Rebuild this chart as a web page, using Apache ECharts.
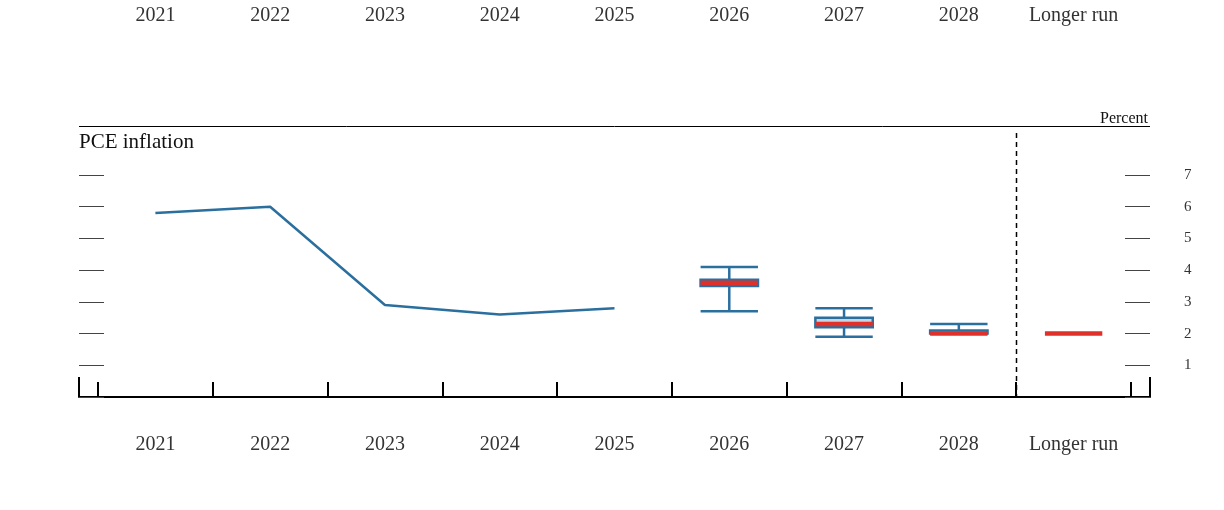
<!DOCTYPE html>
<html>
<head>
<meta charset="utf-8">
<script src="https://cdn.jsdelivr.net/npm/echarts@6/dist/echarts.min.js"></script>
<style>
  html, body { margin: 0; padding: 0; background: #fff; }
  #chart { width: 1224px; height: 510px; }
</style>
</head>
<body>
<div id="chart"></div>
<script>
// categories on the x axis
const years = ['2021', '2022', '2023', '2024', '2025', '2026', '2027', '2028', 'Longer run'];
// actual PCE inflation (history)
const actual = [5.8, 6.0, 2.9, 2.6, 2.8, null, null, null, null];
// projections: index of year, range and central tendency
const boxIdx  = [5, 6, 7];
const boxLow  = [2.7, 1.9, 2.0];
const boxQ1   = [3.5, 2.2, 2.0];
const boxQ3   = [3.7, 2.5, 2.1];
const boxHigh = [4.1, 2.8, 2.3];
// medians (red bars), last one is the longer run
const medIdx = [5, 6, 7, 8];
const medVal = [3.6, 2.3, 2.0, 2.0];
// y tick labels
const yTicks = [1, 2, 3, 4, 5, 6, 7];

const BLUE = '#2b6f9e';
const RED = '#e0302a';
const serif = '"Liberation Serif", "DejaVu Serif", serif';

const chart = echarts.init(document.getElementById('chart'));

const boxData = boxIdx.map((x, i) => [x, boxLow[i], boxQ1[i], boxQ3[i], boxHigh[i]]);
const medData = medIdx.map((x, i) => [x, medVal[i]]);

const option = {
  animation: false,
  grid: [
    { left: 98, right: 93, top: 175, bottom: 113 },   // data grid
    { left: 79, right: 74, top: 175, bottom: 113 }    // frame grid
  ],
  xAxis: [
    {
      type: 'category', gridIndex: 0, data: years, boundaryGap: true,
      axisLine: { show: false },
      axisTick: { show: true, interval: 0, inside: true, length: 15, lineStyle: { color: '#000', width: 2 } },
      axisLabel: { interval: 0, margin: 38, fontFamily: serif, fontSize: 20, color: '#333' }
    },
    {
      type: 'category', gridIndex: 0, data: years, position: 'top',
      axisLine: { show: false }, axisTick: { show: false },
      axisLabel: { interval: 0, margin: 149, fontFamily: serif, fontSize: 20, color: '#333' }
    },
    {
      type: 'value', gridIndex: 1, min: 0, max: 1, interval: 1,
      axisLine: { show: true, lineStyle: { color: '#000', width: 2 } },
      axisTick: { show: true, inside: true, length: 20, lineStyle: { color: '#000', width: 2 } },
      axisLabel: { show: false }, splitLine: { show: false }
    }
  ],
  yAxis: [
    { type: 'value', gridIndex: 0, min: 0, max: 7, show: false },
    {
      type: 'value', gridIndex: 1, min: 0, max: 7, interval: 1, position: 'left',
      axisLine: { show: false },
      axisTick: { show: true, inside: true, length: 25, lineStyle: { color: '#444', width: 1 } },
      axisLabel: { show: false }, splitLine: { show: false }
    },
    {
      type: 'value', gridIndex: 1, min: 0, max: 7, interval: 1, position: 'right',
      axisLine: { show: false },
      axisTick: { show: true, inside: true, length: 25, lineStyle: { color: '#444', width: 1 } },
      axisLabel: {
        margin: 34, fontFamily: serif, fontSize: 15, color: '#333', padding: [3, 0, 0, 0],
        formatter: v => yTicks.includes(v) ? String(v) : ''
      },
      splitLine: { show: false }
    }
  ],
  series: [
    {
      type: 'line', xAxisIndex: 0, yAxisIndex: 0, data: actual,
      symbol: 'none', lineStyle: { color: BLUE, width: 2.5 }, connectNulls: false
    },
    {
      type: 'custom', xAxisIndex: 0, yAxisIndex: 0, data: boxData,
      renderItem: function (params, api) {
        const x = api.value(0);
        const band = api.size([1, 0])[0];
        const half = band * 0.25;
        const pLow = api.coord([x, api.value(1)]);
        const pQ1 = api.coord([x, api.value(2)]);
        const pQ3 = api.coord([x, api.value(3)]);
        const pHigh = api.coord([x, api.value(4)]);
        const cx = pLow[0];
        const ls = { stroke: BLUE, lineWidth: 2.5 };
        return {
          type: 'group',
          children: [
            { type: 'line', shape: { x1: cx, y1: pHigh[1], x2: cx, y2: pQ3[1] }, style: ls },
            { type: 'line', shape: { x1: cx, y1: pQ1[1], x2: cx, y2: pLow[1] }, style: ls },
            { type: 'line', shape: { x1: cx - half, y1: pHigh[1], x2: cx + half, y2: pHigh[1] }, style: ls },
            { type: 'line', shape: { x1: cx - half, y1: pLow[1], x2: cx + half, y2: pLow[1] }, style: ls },
            {
              type: 'rect',
              shape: { x: cx - half, y: pQ3[1], width: half * 2, height: pQ1[1] - pQ3[1] },
              style: { fill: '#c8d4e2', stroke: BLUE, lineWidth: 2.5 }
            }
          ]
        };
      }
    },
    {
      type: 'custom', xAxisIndex: 0, yAxisIndex: 0, data: medData, z: 5,
      renderItem: function (params, api) {
        const p = api.coord([api.value(0), api.value(1)]);
        const half = api.size([1, 0])[0] * 0.25;
        return {
          type: 'line',
          shape: { x1: p[0] - half, y1: p[1], x2: p[0] + half, y2: p[1] },
          style: { stroke: RED, lineWidth: 4.5 }
        };
      }
    }
  ]
};

chart.setOption(option);

// dashed separator between 2028 and the longer run, placed from the axis scale
const c28 = chart.convertToPixel({ xAxisIndex: 0 }, '2028');
const cLR = chart.convertToPixel({ xAxisIndex: 0 }, 'Longer run');
const sepX = Math.round((c28 + cLR) / 2) + 0.5;
chart.setOption({
  graphic: [
    { type: 'line', shape: { x1: 79, y1: 126.5, x2: 1150, y2: 126.5 }, style: { stroke: '#000', lineWidth: 1 } },
    { type: 'text', left: 79, top: 132, style: { text: 'PCE inflation', font: '21px ' + serif, fill: '#111' } },
    { type: 'text', right: 76, top: 111, style: { text: 'Percent', font: '16px ' + serif, fill: '#111' } },
    { type: 'line', shape: { x1: sepX, y1: 133, x2: sepX, y2: 396 }, style: { stroke: '#000', lineWidth: 1.5, lineDash: [5, 4] } }
  ]
});
</script>
</body>
</html>
